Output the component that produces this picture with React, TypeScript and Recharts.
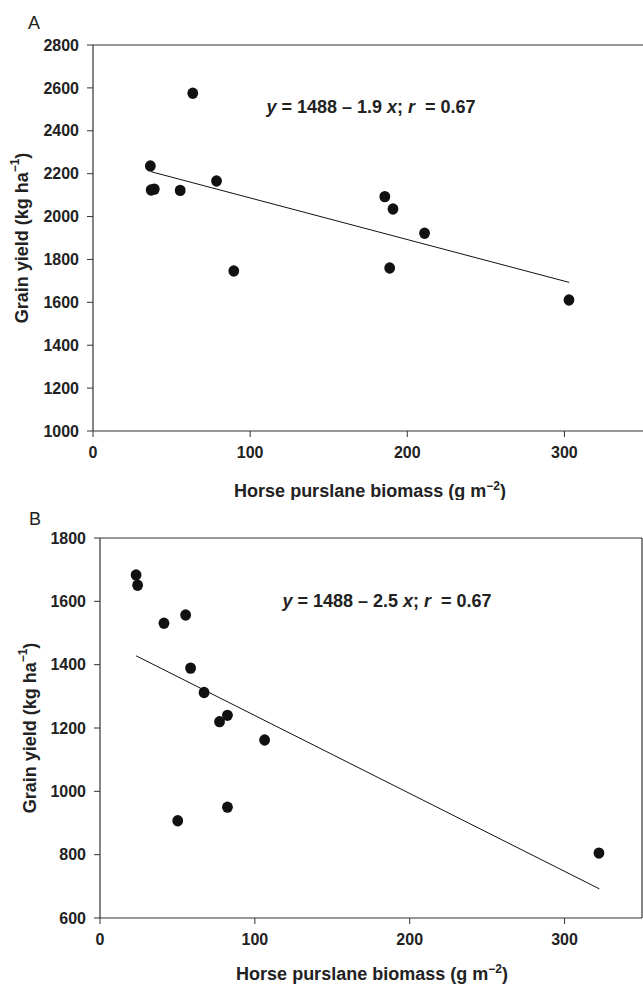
import React from "react";
import {
  ScatterChart,
  Scatter,
  XAxis,
  YAxis,
  ReferenceLine,
  Label,
} from "recharts";

// ---------- Data ----------
const biomassA = [36.5, 37, 39, 55.5, 63.5, 78.6, 89.6, 185.7, 188.8, 190.9, 211, 302.9];
const yieldA = [2236, 2124, 2128, 2122, 2575, 2166, 1746, 2093, 1760, 2035, 1922, 1611];
const fitXA = [37, 303];
const fitYA = [2209, 1693];

const biomassB = [23.3, 24.3, 41.3, 55.3, 58.5, 67.2, 77.2, 82.3, 106.3, 82.3, 50.2, 322.2];
const yieldB = [1683, 1651, 1531, 1557, 1389, 1312, 1220, 1240, 1162, 950, 907, 805];
const fitXB = [23.3, 322.5];
const fitYB = [1428, 692];

const xTicks = [0, 100, 200, 300];
const yTicksA = [1000, 1200, 1400, 1600, 1800, 2000, 2200, 2400, 2600, 2800];
const yTicksB = [600, 800, 1000, 1200, 1400, 1600, 1800];

const eqA = { pre: "= 1488 \u2013 1.9 ", post: "= 0.67" };
const eqB = { pre: "= 1488 \u2013 2.5 ", post: "= 0.67" };

const xTitle = "Horse purslane biomass (g m";
const yTitle = "Grain yield (kg ha";

const zip = (xs: number[], ys: number[]) => xs.map((x, i) => ({ x, y: ys[i] }));

const FONT = "'Liberation Sans', Arial, sans-serif";
const AXIS = "#333";

const tickStyle = { fontFamily: FONT, fontSize: 16, fontWeight: 700, fill: "#222" };

const Dot = (props: any) => {
  const { cx, cy } = props;
  if (cx == null || cy == null) return null;
  return <ellipse cx={cx} cy={cy} rx={5.4} ry={5.7} fill="#111" />;
};
const NoDot = () => null;

type PanelProps = {
  top: number;
  height: number;
  yAxisW: number;
  marginTop: number;
  marginRight: number;
  xAxisH: number;
  yDomain: [number, number];
  yTicks: number[];
  pts: { x: number; y: number }[];
  fit: { x: number; y: number }[];
  letter: string;
  letterPos: [number, number];
  eq: { pre: string; post: string };
  eqPos: [number, number];
  xTitlePos: [number, number];
  yTitlePos: [number, number];
  rightBorder: boolean;
};

const Panel = (p: PanelProps) => {
  const overlay = () => (
    <g fontFamily={FONT} fill="#222">
      <text x={p.letterPos[0]} y={p.letterPos[1]} fontSize={18} fontWeight={400}>
        {p.letter}
      </text>
      <text
        x={p.eqPos[0]}
        y={p.eqPos[1]}
        fontSize={18}
        fontWeight={700}
        textAnchor="middle"
      >
        <tspan fontStyle="italic">y</tspan>
        <tspan> {p.eq.pre}</tspan>
        <tspan fontStyle="italic">x</tspan>
        <tspan>; </tspan>
        <tspan fontStyle="italic">r</tspan>
        <tspan>{"\u00a0 " + p.eq.post}</tspan>
      </text>
      <text
        x={p.xTitlePos[0]}
        y={p.xTitlePos[1]}
        fontSize={18}
        fontWeight={700}
        textAnchor="middle"
      >
        <tspan>{xTitle}</tspan>
        <tspan dy={-7} fontSize={12}>{"\u22122"}</tspan>
        <tspan dy={7}>)</tspan>
      </text>
      <text
        x={p.yTitlePos[0]}
        y={p.yTitlePos[1]}
        fontSize={18}
        fontWeight={700}
        textAnchor="middle"
        dominantBaseline="central"
        transform={`rotate(-90 ${p.yTitlePos[0]} ${p.yTitlePos[1]})`}
      >
        <tspan>{yTitle}</tspan>
        <tspan dy={-7} fontSize={12}>{"\u22121"}</tspan>
        <tspan dy={7}>)</tspan>
      </text>
    </g>
  );
  return (
    <div style={{ position: "absolute", left: 0, top: p.top, width: 643, height: p.height }}>
      <ScatterChart
        width={643}
        height={p.height}
        margin={{ top: p.marginTop, right: p.marginRight, left: 0, bottom: 0 }}
      >
        <XAxis
          type="number"
          dataKey="x"
          domain={[0, 350]}
          ticks={xTicks}
          allowDataOverflow
          height={p.xAxisH}
          tickSize={6}
          tickMargin={10}
          tick={tickStyle}
          axisLine={{ stroke: AXIS, strokeWidth: 1.2 }}
          tickLine={{ stroke: AXIS, strokeWidth: 1 }}
        >
          <Label content={overlay} />
        </XAxis>
        <YAxis
          type="number"
          dataKey="y"
          domain={p.yDomain}
          ticks={p.yTicks}
          allowDataOverflow
          width={p.yAxisW}
          tickSize={6}
          tickMargin={8}
          tick={tickStyle}
          axisLine={{ stroke: AXIS, strokeWidth: 1.2 }}
          tickLine={{ stroke: AXIS, strokeWidth: 1 }}
        />
        <ReferenceLine y={p.yDomain[1]} stroke={AXIS} strokeWidth={1.2} />
        {p.rightBorder && <ReferenceLine x={350} stroke={AXIS} strokeWidth={1.2} />}
        <Scatter
          data={p.fit}
          line={{ stroke: "#111", strokeWidth: 1 }}
          shape={NoDot}
          isAnimationActive={false}
        />
        <Scatter data={p.pts} shape={Dot} isAnimationActive={false} />
      </ScatterChart>
    </div>
  );
};

export default function App() {
  return (
    <div style={{ position: "absolute", left: 0, top: 0, width: 643, height: 985, background: "#fff" }}>
      <Panel
        top={0}
        height={500}
        yAxisW={93}
        marginTop={45}
        marginRight={0}
        xAxisH={69}
        yDomain={[1000, 2800]}
        yTicks={yTicksA}
        pts={zip(biomassA, yieldA)}
        fit={zip(fitXA, fitYA)}
        letter="A"
        letterPos={[28, 29]}
        eq={eqA}
        eqPos={[371, 113]}
        xTitlePos={[370, 497]}
        yTitlePos={[22, 238]}
        rightBorder={false}
      />
      <Panel
        top={490}
        height={495}
        yAxisW={100}
        marginTop={48}
        marginRight={1}
        xAxisH={67}
        yDomain={[600, 1800]}
        yTicks={yTicksB}
        pts={zip(biomassB, yieldB)}
        fit={zip(fitXB, fitYB)}
        letter="B"
        letterPos={[29, 35]}
        eq={eqB}
        eqPos={[387, 117]}
        xTitlePos={[372, 490]}
        yTitlePos={[30, 238]}
        rightBorder={true}
      />
    </div>
  );
}
